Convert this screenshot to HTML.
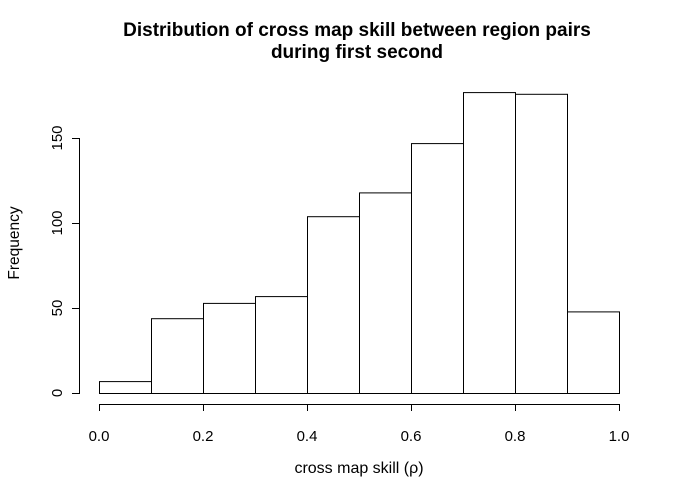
<!DOCTYPE html>
<html><head><meta charset="utf-8"><style>
html,body{margin:0;padding:0;background:#fff;}
svg{display:block;font-family:"Liberation Sans",sans-serif;}
</style></head><body>
<svg id="chart" width="680" height="503" viewBox="0 0 680 503">
<text x="357" y="36" text-anchor="middle" font-size="19" font-weight="bold">Distribution of cross map skill between region pairs</text>
<text x="357" y="58" text-anchor="middle" font-size="19" font-weight="bold">during first second</text>
<text x="359" y="473" text-anchor="middle" font-size="16">cross map skill (ρ)</text>
<text transform="translate(19,243) rotate(-90)" text-anchor="middle" font-size="15.5">Frequency</text>
<g id="bars"></g>
<g id="xaxis"></g>
<g id="yaxis"></g>
</svg>
<script>
const binStarts=[0,0.1,0.2,0.3,0.4,0.5,0.6,0.7,0.8,0.9];
const counts=[7,44,53,57,104,118,147,177,176,48];
const xTicks=[0,0.2,0.4,0.6,0.8,1.0];
const xTickLabels=["0.0","0.2","0.4","0.6","0.8","1.0"];
const yTicks=[0,50,100,150];
const binWidth=0.1;
const NS="http://www.w3.org/2000/svg";
const x=v=>99+v*520;
const y=v=>393-v*1.7;
function mk(tag,attrs,parent){const e=document.createElementNS(NS,tag);for(const k in attrs)e.setAttribute(k,attrs[k]);parent.appendChild(e);return e;}
const bars=document.getElementById('bars');
counts.forEach((c,i)=>{
  const r=mk('rect',{x:x(binStarts[i])+0.5,y:y(c)+0.5,width:x(binStarts[i]+binWidth)-x(binStarts[i]),height:y(0)-y(c),fill:'#fff',stroke:'#000','stroke-width':1},bars);
  
  
});
const xa=document.getElementById('xaxis');
mk('line',{x1:x(0),x2:x(1),y1:404.5,y2:404.5,stroke:'#000'},xa);
xTicks.forEach((t,i)=>{
  mk('line',{x1:x(t)+0.5,x2:x(t)+0.5,y1:404,y2:411,stroke:'#000'},xa);
  const tx=mk('text',{x:x(t),y:441,'text-anchor':'middle','font-size':15},xa);
  tx.textContent=xTickLabels[i];
  
  
});
const ya=document.getElementById('yaxis');
mk('line',{x1:79.5,x2:79.5,y1:y(0),y2:y(150),stroke:'#000'},ya);
yTicks.forEach(t=>{
  mk('line',{x1:72,x2:80,y1:y(t)+0.5,y2:y(t)+0.5,stroke:'#000'},ya);
  const tx=mk('text',{transform:`translate(62,${y(t)}) rotate(-90)`,'text-anchor':'middle','font-size':15},ya);
  tx.textContent=String(t);
  
  
});
</script>
</body></html>
